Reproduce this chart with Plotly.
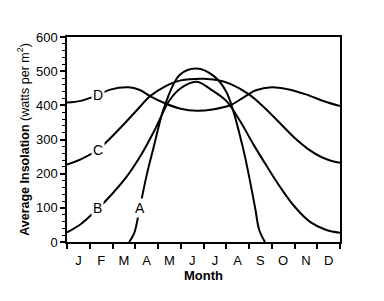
import plotly.graph_objects as go

months = ["J", "F", "M", "A", "M", "J", "J", "A", "S", "O", "N", "D"]
month_pos = [i + 0.5 for i in range(12)]

# Curve A (x in month units 0..12)
a_x = [2.73, 2.95, 3.2, 3.5, 3.8, 4.3, 4.97, 5.7, 6.43, 7.0, 7.7, 8.26, 8.45, 8.7]
a_y = [0, 25, 100, 195, 275, 400, 490, 508, 487, 440, 285, 103, 35, 0]

# Curve B
b_x = [0, 0.6, 1.35, 2.0, 2.63, 3.3, 3.9, 4.5, 5.0, 5.7, 6.4, 7.0, 7.6, 8.2, 8.8, 9.4, 10.0, 10.7, 11.4, 12]
b_y = [28, 52, 97, 142, 192, 260, 334, 414, 450, 469, 443, 413, 355, 285, 220, 158, 104, 58, 35, 27]

# Curve C
c_x = [0, 0.6, 1.35, 1.89, 2.6, 3.2, 3.65, 4.3, 5.0, 6.0, 6.6, 7.2, 8.0, 8.6, 9.3, 10.0, 10.6, 11.2, 11.6, 12]
c_y = [227, 242, 270, 303, 352, 395, 427, 455, 473, 478, 474, 462, 432, 398, 352, 305, 272, 248, 238, 232]

# Curve D
d_x = [0, 0.6, 1.35, 1.9, 2.7, 3.2, 3.65, 4.3, 5.0, 5.7, 6.4, 7.2, 7.8, 8.3, 9.0, 9.7, 10.5, 11.3, 12]
d_y = [408, 413, 430, 446, 453, 445, 427, 406, 390, 384, 388, 401, 425, 444, 453, 447, 432, 412, 398]

labels = ["A", "B", "C", "D"]
label_x = [3.2, 1.35, 1.35, 1.35]
label_y = [100, 100, 270, 430]

fig = go.Figure()
for xs, ys in [(d_x, d_y), (c_x, c_y), (b_x, b_y), (a_x, a_y)]:
    fig.add_trace(go.Scatter(x=xs, y=ys, mode="lines",
                             line=dict(color="black", width=2, shape="spline", smoothing=1.0),
                             showlegend=False, hoverinfo="skip"))

for t, lx, ly in zip(labels, label_x, label_y):
    fig.add_annotation(x=lx, y=ly, text=t, showarrow=False,
                       font=dict(family="Liberation Sans, Arial", size=14, color="black"),
                       bgcolor="white", borderpad=1)

font = dict(family="Liberation Sans, Arial", size=12, color="black")
fig.update_layout(
    width=384, height=301,
    margin=dict(l=67, r=44, t=37, b=59),
    paper_bgcolor="white", plot_bgcolor="white",
    font=font,
    xaxis=dict(range=[0, 12], tickvals=month_pos, ticktext=months, ticks="",
               showline=True, linecolor="black", linewidth=1.5, mirror=True,
               showgrid=False, zeroline=False, ticklabelstandoff=6,
               tickfont=dict(family="Liberation Sans, Arial", size=13, color="black"),
               minor=dict(tickvals=list(range(13)), ticks="outside", ticklen=5,
                          tickwidth=1.5, tickcolor="black", showgrid=False),
               title=dict(text="<b>Month</b>", standoff=2,
                          font=dict(family="Liberation Sans, Arial", size=13, color="black"))),
    yaxis=dict(range=[0, 600], dtick=100, ticks="outside", ticklen=5, tickwidth=1.5,
               tickcolor="black", showline=True, linecolor="black", linewidth=1.5,
               mirror=True, showgrid=False, zeroline=False,
               tickfont=dict(family="Liberation Sans, Arial", size=13, color="black"),
               minor=dict(dtick=20, ticks="outside", ticklen=3, tickwidth=1,
                          tickcolor="black", showgrid=False),
               title=dict(text="<b>Average Insolation</b> (watts per m<sup>2</sup>)", standoff=4,
                          font=dict(family="Liberation Sans, Arial", size=12.5, color="black"))),
)
fig.write_html("out.html")
